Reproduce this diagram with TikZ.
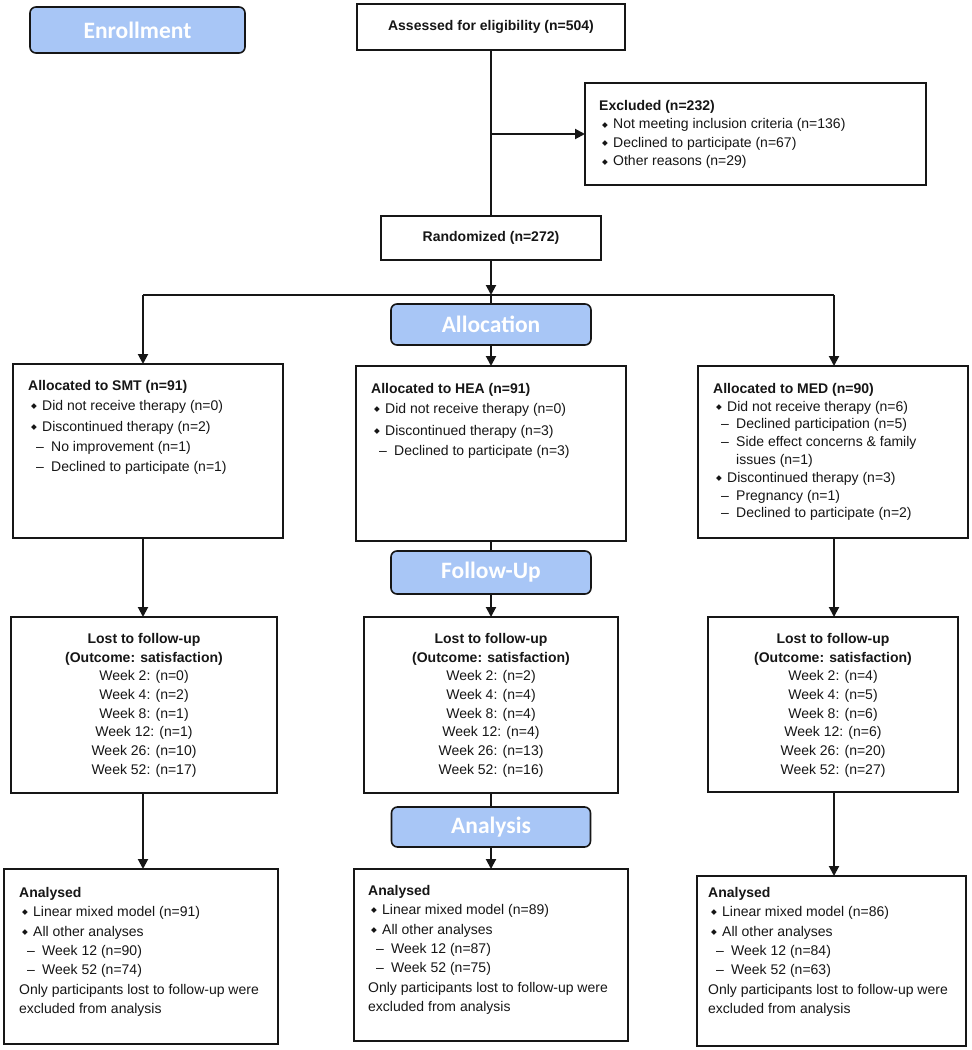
\documentclass[tikz,border=0pt]{standalone}
\usepackage{fontspec}
\setmainfont{Liberation Sans}
\newfontfamily\djv{DejaVu Sans}
\newfontfamily\calfont{Carlito}
\usetikzlibrary{arrows.meta}
\definecolor{phasefill}{RGB}{168,198,246}
\definecolor{ink}{RGB}{22,22,22}
\newcommand\bitem{\hspace*{3pt}\makebox[11pt][l]{\raisebox{1.8pt}{\fontsize{7.5}{7.5}\djv ◆}}}
\newcommand\ditem{\hspace*{8pt}\makebox[15pt][l]{–}}
\newcommand\wrapind{\hspace*{23pt}}
\begin{document}
\begin{tikzpicture}[x=1pt,y=-1pt,
  box/.style={draw=ink,line width=1.8pt,fill=white,anchor=north west,inner sep=0pt,outer sep=0pt},
  phase/.style={draw=ink,line width=1.6pt,fill=phasefill,rounded corners=6pt,inner sep=0pt,outer sep=0pt,
    text=white,font=\calfont\bfseries\fontsize{23.5}{26}\selectfont},
  txt/.style={anchor=north west,inner sep=0pt,align=left,text=ink,font=\fontsize{14}{18.5}\selectfont},
  ctxt/.style={anchor=north,inner sep=0pt,align=center,text=ink,font=\fontsize{14}{18.7}\selectfont},
  conn/.style={draw=ink,line width=2pt},
  arr/.style={conn,-{Triangle[width=10pt,length=10pt]}}]
\useasboundingbox (0,0) rectangle (972,1050);
\fill[white] (0,0) rectangle (972,1050);

% phase labels
\node[phase,minimum width=215pt,minimum height=46pt] (enr) at (137.5,30) {Enrollment};
\node[phase,minimum width=200pt,minimum height=41pt] (alloc) at (491,324.5) {Allocation};
\node[phase,minimum width=200pt,minimum height=43pt] (fu) at (491,572.5) {Follow-Up};
\node[phase,minimum width=199pt,minimum height=40pt] (ana) at (491,827) {Analysis};

% boxes
\node[box,minimum width=268pt,minimum height=46pt] (assess) at (357,4) {};
\node[txt,anchor=center,font=\bfseries\fontsize{14}{18}\selectfont] (assesst) at (491,27) {Assessed for eligibility (n=504)};
\node[box,minimum width=341pt,minimum height=102pt] (excl) at (585,83) {};
\node[box,minimum width=220pt,minimum height=44pt] (rand) at (381,216) {};
\node[txt,anchor=center,font=\bfseries\fontsize{14}{18}\selectfont] (randt) at (491,238) {Randomized (n=272)};

\node[box,minimum width=270pt,minimum height=174pt] (smt) at (13,364) {};
\node[box,minimum width=270pt,minimum height=175pt] (hea) at (356,366) {};
\node[box,minimum width=270pt,minimum height=172pt] (med) at (698,366) {};

\node[box,minimum width=266pt,minimum height=176pt] (lostsmt) at (11,617) {};
\node[box,minimum width=254pt,minimum height=176pt] (losthea) at (364,617) {};
\node[box,minimum width=250pt,minimum height=175pt] (lostmed) at (708,617) {};

\node[box,minimum width=274pt,minimum height=175pt] (anasmt) at (4,869) {};
\node[box,minimum width=274pt,minimum height=172pt] (anahea) at (354,869) {};
\node[box,minimum width=269pt,minimum height=170pt] (anamed) at (697,876) {};

% connectors
\coordinate (br) at (491,134);
\coordinate (hl) at (491,295);
\coordinate (hlL) at (143,295);
\coordinate (hlR) at (834,295);
\draw[conn] (assess.south) -- (rand.north);
\draw[arr] (br) -- (excl.west);
\draw[arr] (rand.south) -- (hl);
\draw[conn] (hlL) -- (hlR);
\draw[arr] (hlL) -- (hlL |- smt.north);
\draw[arr] (hlR) -- (hlR |- med.north);
\draw[conn] (hl) -- (alloc.north);
\draw[arr] (alloc.south) -- (hea.north);
\draw[conn] (hea.south) -- (fu.north);
\draw[arr] (fu.south) -- (losthea.north);
\draw[arr] (hlL |- smt.south) -- (hlL |- lostsmt.north);
\draw[arr] (hlR |- med.south) -- (hlR |- lostmed.north);
\draw[conn] (losthea.south) -- (ana.north);
\draw[arr] (ana.south) -- (anahea.north);
\draw[arr] (hlL |- lostsmt.south) -- (hlL |- anasmt.north);
\draw[arr] (hlR |- lostmed.south) -- (hlR |- anamed.north);

% texts
\node[txt] (exclt) at (599,100) {\textbf{Excluded (n=232)}\\
\bitem Not meeting inclusion criteria (n=136)\\
\bitem Declined to participate (n=67)\\
\bitem Other reasons (n=29)};

\node[txt,font=\fontsize{14}{20}\selectfont] (smtt) at (28,380) {\textbf{Allocated to SMT (n=91)}\\
\bitem Did not receive therapy (n=0)\\[1pt]
\bitem Discontinued therapy (n=2)\\
\ditem No improvement (n=1)\\
\ditem Declined to participate (n=1)};

\node[txt,font=\fontsize{14}{20}\selectfont] (heat) at (371,383) {\textbf{Allocated to HEA (n=91)}\\
\bitem Did not receive therapy (n=0)\\[2pt]
\bitem Discontinued therapy (n=3)\\
\ditem Declined to participate (n=3)};

\node[txt,font=\fontsize{14}{17.8}\selectfont] (medt) at (713,383) {\textbf{Allocated to MED (n=90)}\\
\bitem Did not receive therapy (n=6)\\
\ditem Declined participation (n=5)\\
\ditem Side effect concerns \& family\\
\wrapind issues (n=1)\\
\bitem Discontinued therapy (n=3)\\
\ditem Pregnancy (n=1)\\
\ditem Declined to participate (n=2)};

\node[ctxt] (lostsmtt) at (144,633) {\textbf{Lost to follow-up}\\ \textbf{(Outcome: satisfaction)}\\
Week 2: (n=0)\\ Week 4: (n=2)\\ Week 8: (n=1)\\ Week 12: (n=1)\\ Week 26: (n=10)\\ Week 52: (n=17)};
\node[ctxt] (lostheat) at (491,633) {\textbf{Lost to follow-up}\\ \textbf{(Outcome: satisfaction)}\\
Week 2: (n=2)\\ Week 4: (n=4)\\ Week 8: (n=4)\\ Week 12: (n=4)\\ Week 26: (n=13)\\ Week 52: (n=16)};
\node[ctxt] (lostmedt) at (833,633) {\textbf{Lost to follow-up}\\ \textbf{(Outcome: satisfaction)}\\
Week 2: (n=4)\\ Week 4: (n=5)\\ Week 8: (n=6)\\ Week 12: (n=6)\\ Week 26: (n=20)\\ Week 52: (n=27)};

\node[txt,font=\fontsize{14}{19.4}\selectfont] (anasmtt) at (19,887) {\textbf{Analysed}\\
\bitem Linear mixed model (n=91)\\
\bitem All other analyses\\
\ditem Week 12 (n=90)\\
\ditem Week 52 (n=74)\\
Only participants lost to follow-up were\\
excluded from analysis};
\node[txt,font=\fontsize{14}{19.4}\selectfont] (anaheat) at (368,885) {\textbf{Analysed}\\
\bitem Linear mixed model (n=89)\\
\bitem All other analyses\\
\ditem Week 12 (n=87)\\
\ditem Week 52 (n=75)\\
Only participants lost to follow-up were\\
excluded from analysis};
\node[txt,font=\fontsize{14}{19.4}\selectfont] (anamedt) at (708,887) {\textbf{Analysed}\\
\bitem Linear mixed model (n=86)\\
\bitem All other analyses\\
\ditem Week 12 (n=84)\\
\ditem Week 52 (n=63)\\
Only participants lost to follow-up were\\
excluded from analysis};
\end{tikzpicture}
\end{document}
